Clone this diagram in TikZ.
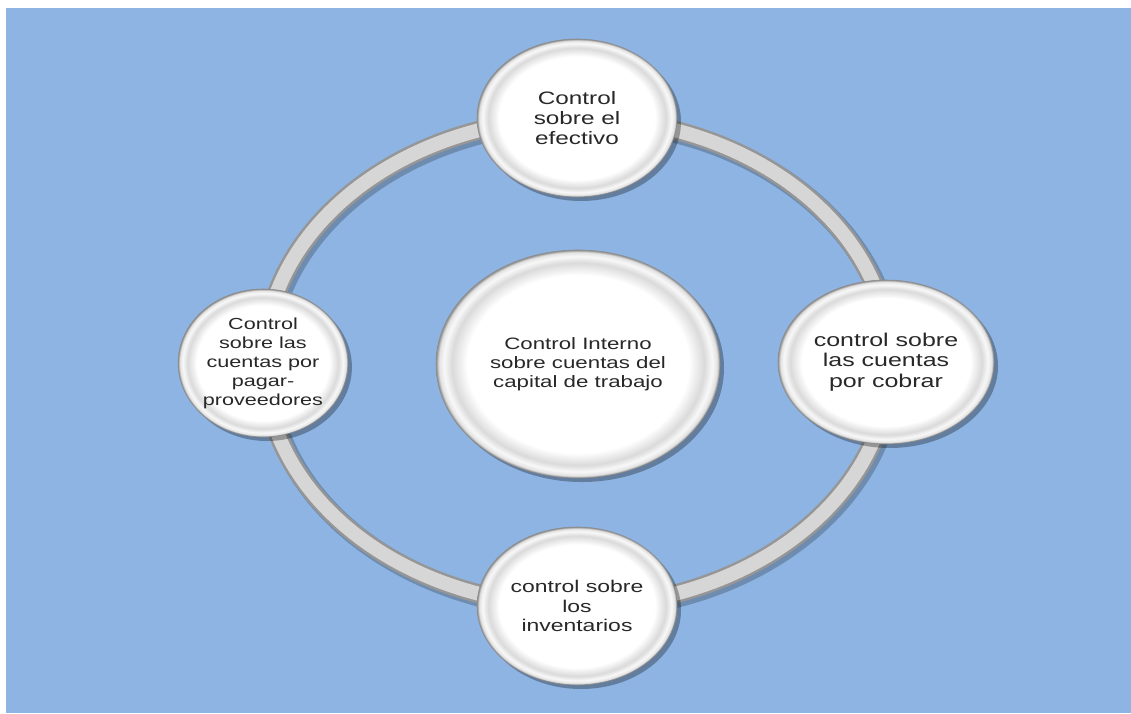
\documentclass[tikz,border=0pt]{standalone}
\usepackage{fontspec}
\newfontfamily\lab[FakeStretch=1.35]{Liberation Sans}
\usetikzlibrary{shapes.geometric,shadows}
\definecolor{bgblue}{RGB}{141,180,226}
\definecolor{ringout}{RGB}{150,150,150}
\definecolor{ringin}{RGB}{214,214,214}
\definecolor{shA}{RGB}{218,218,218}
\definecolor{shB}{RGB}{248,248,248}
\definecolor{shC}{RGB}{226,226,226}
\definecolor{shD}{RGB}{140,140,140}
\definecolor{txt}{RGB}{40,40,40}
\pgfdeclareradialshading{bevel}{\pgfpoint{0bp}{0bp}}{color(0bp)=(white); color(19.5bp)=(white); color(22.2bp)=(shA); color(23.6bp)=(shB); color(24.5bp)=(shC); color(25bp)=(shD); color(50bp)=(shD)}
\tikzset{
  bub/.style={ellipse, inner sep=0pt, shade, shading=bevel,
    draw=shD, line width=0.6pt,
    drop shadow={shadow xshift=4pt, shadow yshift=-4pt, opacity=0.3, fill=black},
    font={\lab\fontsize{17}{19.5}\selectfont}, text=txt, align=center},
}
\begin{document}
\begin{tikzpicture}[x=1pt,y=-1pt]
\useasboundingbox (0,0) rectangle (1131,713);
\fill[white] (0,0) rectangle (1131,713);
\fill[bgblue] (6,8) rectangle (1131,713);
% ring
\coordinate (rc) at (577,362);
\draw[black, opacity=0.22, line width=21pt] ([shift={(3,3)}]rc) ellipse [x radius=313, y radius=244];
\draw[ringout, line width=19pt] (rc) ellipse [x radius=313, y radius=244];
\draw[ringin, line width=14pt] (rc) ellipse [x radius=313, y radius=244];
% nodes
\node[bub, minimum width=200pt, minimum height=158pt, font={\lab\fontsize{18}{20}\selectfont}] (top) at (577,118) {Control\\sobre el\\efectivo};
\node[bub, minimum width=216pt, minimum height=164pt, font={\lab\fontsize{18.5}{20.5}\selectfont}] (right) at (886,362) {control sobre\\las cuentas\\por cobrar};
\node[bub, minimum width=200pt, minimum height=158pt] (bottom) at (577,606) {control sobre\\los\\inventarios};
\node[bub, minimum width=154pt, minimum height=148pt, font={\lab\fontsize{16}{19}\selectfont}] (left) at (263,363) {Control\\sobre las\\cuentas por\\pagar-\\proveedores};
\node[bub, minimum width=284pt, minimum height=228pt, font={\lab\fontsize{16.5}{19}\selectfont}] (center) at (578,364) {Control Interno\\sobre cuentas del\\capital de trabajo};
\end{tikzpicture}
\end{document}
